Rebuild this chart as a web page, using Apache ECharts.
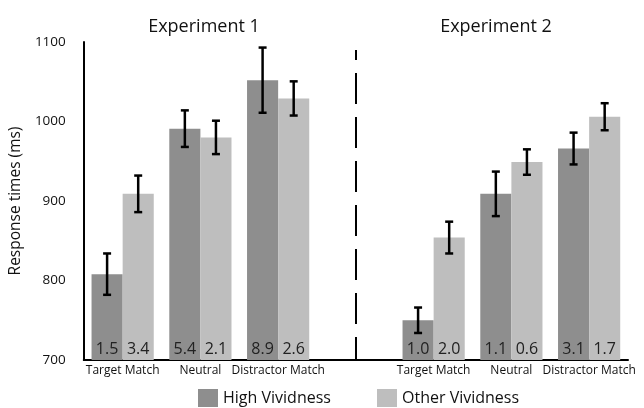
<!DOCTYPE html>
<html>
<head>
<meta charset="utf-8">
<script src="https://cdn.jsdelivr.net/npm/echarts@6/dist/echarts.min.js"></script>
<style>
html,body{margin:0;padding:0;background:#fff;}
#chart{width:644px;height:408px;}
</style>
</head>
<body>
<div id="chart"></div>
<script>
// ---- data ----
const categories = ['Target Match', 'Neutral', 'Distractor Match', '', 'Target Match', 'Neutral', 'Distractor Match'];
const highValues  = [808, 991, 1052, null, 750, 909, 966];
const otherValues = [909, 980, 1029, null, 854, 949, 1006];
const highErrors  = [26, 23, 41, null, 16, 28, 20];
const otherErrors = [23, 21, 21.5, null, 20, 16, 17];
const highLabels  = ['1.5', '5.4', '8.9', '', '1.0', '1.1', '3.1'];
const otherLabels = ['3.4', '2.1', '2.6', '', '2.0', '0.6', '1.7'];
const yTicks = [700, 800, 900, 1000, 1100];
const panelTitles = ['Experiment 1', 'Experiment 2'];
const seriesNames = ['High Vividness', 'Other Vividness'];
const separatorIndex = 3;

const FONT = 'Open Sans';
const Y_MIN = yTicks[0], Y_MAX = yTicks[yTicks.length - 1];

function errData(vals, errs) {
  const out = [];
  vals.forEach((v, i) => { if (v != null) out.push([i, v, errs[i]]); });
  return out;
}

function makeErr(sign, labels) {
  return function (params, api) {
    const i = api.value(0), v = api.value(1), e = api.value(2);
    const w = api.size([1, 0])[0];
    const x = api.coord([i, v])[0] + sign * w * 0.2;
    const top = api.coord([i, v + e])[1];
    const bot = api.coord([i, v - e])[1];
    const base = api.coord([i, Y_MIN])[1];
    const cap = 4;
    const ls = { stroke: '#000', lineWidth: 2.5 };
    return {
      type: 'group',
      children: [
        { type: 'line', shape: { x1: x, y1: top, x2: x, y2: bot }, style: ls },
        { type: 'line', shape: { x1: x - cap, y1: top, x2: x + cap, y2: top }, style: ls },
        { type: 'line', shape: { x1: x - cap, y1: bot, x2: x + cap, y2: bot }, style: ls },
        { type: 'text', x: x, y: base - 3,
          style: { text: labels[i], textAlign: 'center', textVerticalAlign: 'bottom',
                   font: '16px "' + FONT + '"', fill: '#222' } }
      ]
    };
  };
}

const chart = echarts.init(document.getElementById('chart'), null, { renderer: 'canvas' });
chart.setOption({
  animation: false,
  backgroundColor: '#fff',
  grid: { left: 81, right: 16, top: 42, bottom: 48 },
  graphic: [
    { type: 'text', x: 204, y: 27, style: { text: panelTitles[0], textAlign: 'center', textVerticalAlign: 'middle', font: '18px "' + FONT + '"', fill: '#111' } },
    { type: 'text', x: 496, y: 27, style: { text: panelTitles[1], textAlign: 'center', textVerticalAlign: 'middle', font: '18px "' + FONT + '"', fill: '#111' } }
  ],
  legend: [
    { data: [seriesNames[0]], left: 198, top: 389, padding: 0, itemWidth: 20, itemHeight: 18, icon: 'rect',
      textStyle: { fontFamily: FONT, fontSize: 16, color: '#111' } },
    { data: [seriesNames[1]], left: 377, top: 389, padding: 0, itemWidth: 20, itemHeight: 18, icon: 'rect',
      textStyle: { fontFamily: FONT, fontSize: 16, color: '#111' } }
  ],
  xAxis: {
    type: 'category',
    data: categories,
    axisLine: { lineStyle: { color: '#000', width: 2 } },
    axisTick: { show: false },
    axisLabel: { interval: 0, fontFamily: FONT, fontSize: 12, color: '#111', margin: 5 }
  },
  yAxis: {
    type: 'value',
    min: Y_MIN, max: Y_MAX, interval: 100,
    name: 'Response times (ms)',
    nameLocation: 'middle',
    nameGap: 57,
    nameTextStyle: { fontFamily: FONT, fontSize: 15.5, color: '#111' },
    axisLine: { show: true, lineStyle: { color: '#000', width: 2 } },
    axisTick: { show: false },
    splitLine: { show: false },
    axisLabel: { fontFamily: FONT, fontSize: 13.5, color: '#111', margin: 18, formatter: (v) => String(v) }
  },
  series: [
    { name: seriesNames[0], type: 'bar', data: highValues, barWidth: '40%', barGap: '0%',
      itemStyle: { color: '#8e8e8e' } },
    { name: seriesNames[1], type: 'bar', data: otherValues, barWidth: '40%', barGap: '0%',
      itemStyle: { color: '#bebebe' } },
    { type: 'custom', data: errData(highValues, highErrors), renderItem: makeErr(-1, highLabels), encode: { x: 0, y: 1 }, z: 5, silent: true },
    { type: 'custom', data: errData(otherValues, otherErrors), renderItem: makeErr(1, otherLabels), encode: { x: 0, y: 1 }, z: 5, silent: true },
    { type: 'line', data: categories.map(() => null), showSymbol: false, silent: true,
      markLine: { symbol: 'none', silent: true, label: { show: false },
        lineStyle: { color: '#000', width: 2, type: [31, 13], dashOffset: 21 },
        data: [[{ xAxis: separatorIndex, yAxis: 1090 }, { xAxis: separatorIndex, yAxis: Y_MIN }]] } }
  ]
});
</script>
</body>
</html>
